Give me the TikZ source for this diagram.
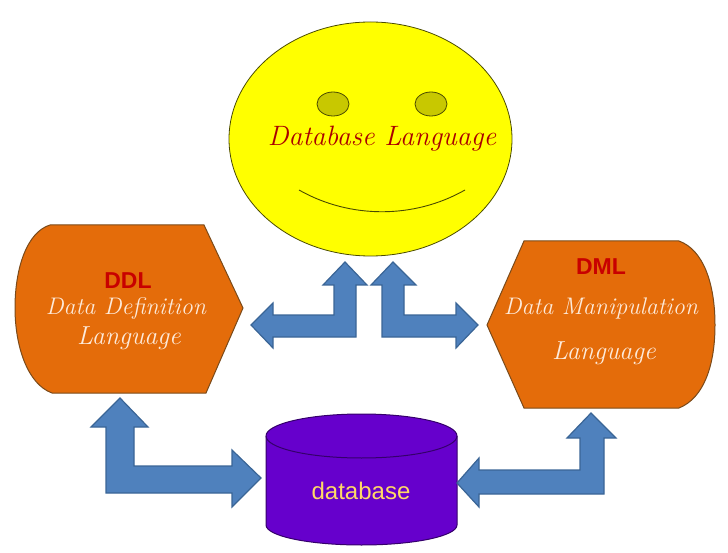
\documentclass[tikz,border=0pt]{standalone}
\usetikzlibrary{shapes.geometric}
\usepackage{fontspec}
\setsansfont{Liberation Sans}
\definecolor{facey}{HTML}{FFFF00}
\definecolor{eyey}{HTML}{C8C800}
\definecolor{darkline}{HTML}{4A4A00}
\definecolor{orangefill}{HTML}{E46C0A}
\definecolor{orangeline}{HTML}{7A4A1A}
\definecolor{bluefill}{HTML}{4F81BD}
\definecolor{blueline}{HTML}{3A6596}
\definecolor{purplefill}{HTML}{6600CC}
\definecolor{purpleline}{HTML}{35006B}
\definecolor{redtext}{HTML}{C80000}
\definecolor{dbtext}{HTML}{FFD966}
\definecolor{paletext}{HTML}{FDEADA}
\tikzset{
  faceshape/.style={ellipse,draw=darkline,fill=facey,line width=0.8pt,minimum width=283pt,minimum height=234pt,inner sep=0pt},
  eyeshape/.style={ellipse,draw=darkline,fill=eyey,line width=0.8pt,minimum width=32pt,minimum height=24pt,inner sep=0pt},
  hexbody/.style={draw=orangeline,fill=orangefill,line width=1pt},
  blockarrow/.style={draw=blueline,fill=bluefill,line width=1.2pt,line join=miter},
  cylbody/.style={draw=purpleline,fill=purplefill,line width=1pt},
  hand/.style={font=\fontsize{#1}{#1}\selectfont\itshape,inner sep=0pt},
  boldlabel/.style={font=\fontsize{23}{23}\selectfont\sffamily\bfseries,text=redtext,inner sep=0pt}
}
\begin{document}
\begin{tikzpicture}[x=1pt,y=-1pt]
\useasboundingbox (0,0) rectangle (728,553);
% face
\node[faceshape] (face) at (370.5,139) {};
\node[eyeshape] (eyeL) at (333,104) {};
\node[eyeshape] (eyeR) at (431,104) {};
\draw[darkline,line width=0.9pt] (299,190) .. controls (350,219) and (414,219) .. (465,190);
\node[hand=28,text=redtext!85!black] (title) at (382,139) {Database Language};
% DDL
\draw[hexbody] (50,225) -- (204,225) -- (243,308) -- (206,393) -- (52,393)
  .. controls (27,384) and (15,345) .. (15,308) .. controls (15,268) and (27,232) .. (50,225) -- cycle;
\node[boldlabel] (ddl) at (128,281) {DDL};
\node[hand=24,text=paletext] (ddlA) at (126,309) {Data Definition};
\node[hand=26,text=paletext] (ddlB) at (129,338) {Language};
% DML
\draw[hexbody] (524,241) -- (679,241) .. controls (704,250) and (715,285) .. (715,325)
  .. controls (715,365) and (704,398) .. (679,408) -- (524,408) -- (487,325) -- cycle;
\node[boldlabel] (dml) at (601,267) {DML};
\node[hand=24,text=paletext] (dmlA) at (601,309) {Data Manipulation};
\node[hand=26,text=paletext] (dmlB) at (604,353) {Language};
% database cylinder
\draw[cylbody] (266,436) -- (266,525) arc[start angle=180,end angle=0,x radius=95.5,y radius=20] -- (457,436)
  arc[start angle=0,end angle=-180,x radius=95.5,y radius=22] -- cycle;
\draw[purpleline,line width=1pt] (266,436) arc[start angle=180,end angle=0,x radius=95.5,y radius=22];
\node[font=\fontsize{24}{24}\selectfont\sffamily,text=dbtext,inner sep=0pt] (db) at (361,491) {database};
% block arrows, each starting from its named tip
\coordinate (tipA) at (345,262);
\draw[blockarrow] (tipA) -- ++(22,23) -- ++(-11,0) -- ++(0,52) -- ++(-83,0) -- ++(0,11) -- ++(-22,-23)
  -- ++(22,-22) -- ++(0,12) -- ++(61,0) -- ++(0,-30) -- ++(-11,0) -- cycle;
\coordinate (tipB) at (393,262);
\draw[blockarrow] (tipB) -- ++(23,23) -- ++(-12,0) -- ++(0,30) -- ++(52,0) -- ++(0,-12) -- ++(22,22)
  -- ++(-22,23) -- ++(0,-11) -- ++(-74,0) -- ++(0,-52) -- ++(-11,0) -- cycle;
\coordinate (tipC) at (120,398);
\draw[blockarrow] (tipC) -- ++(28,29) -- ++(-14,0) -- ++(0,39) -- ++(98,0) -- ++(0,-16) -- ++(29,28)
  -- ++(-29,29) -- ++(0,-14) -- ++(-126,0) -- ++(0,-66) -- ++(-15,0) -- cycle;
\coordinate (tipD) at (591,413);
\draw[blockarrow] (tipD) -- ++(25,25) -- ++(-12,0) -- ++(0,56) -- ++(-125,0) -- ++(0,13) -- ++(-22,-24)
  -- ++(22,-25) -- ++(0,12) -- ++(101,0) -- ++(0,-32) -- ++(-13,0) -- cycle;
\end{tikzpicture}
\end{document}
